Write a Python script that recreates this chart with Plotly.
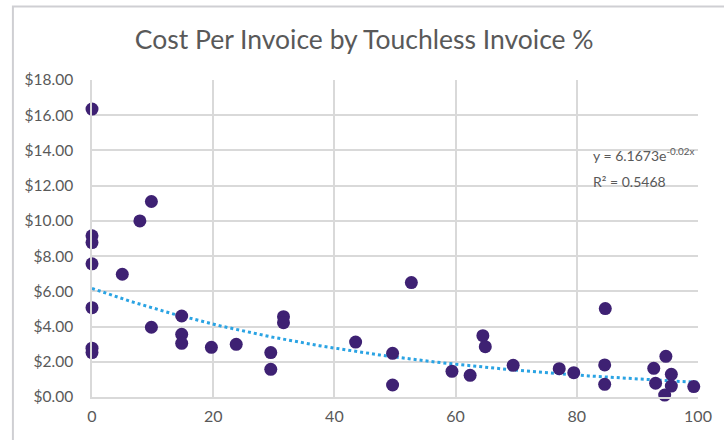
import numpy as np
import plotly.graph_objects as go

# Touchless invoice share (%) and cost per invoice ($) for each surveyed organisation
touchless_pct = [0, 0, 0, 0, 0, 0, 0, 5.0, 7.9, 9.8, 9.8, 14.8, 14.8, 14.8,
                 19.7, 23.8, 29.5, 29.5, 31.6, 31.6, 43.5, 49.6, 49.6, 52.7,
                 59.4, 62.4, 64.5, 64.9, 69.5, 77.1, 79.5, 84.7, 84.6, 84.6,
                 92.7, 93.0, 94.7, 95.6, 95.6, 94.5, 99.3]
cost_per_invoice = [16.35, 9.15, 8.77, 7.56, 5.07, 2.77, 2.52, 6.97, 10.0, 11.1, 3.96,
                    4.6, 3.56, 3.05, 2.82, 2.99, 2.52, 1.57, 4.56, 4.22, 3.12,
                    2.48, 0.68, 6.5, 1.46, 1.23, 3.48, 2.86, 1.80, 1.61, 1.38,
                    5.02, 1.82, 0.72, 1.63, 0.78, 2.31, 1.29, 0.62, 0.11, 0.59]

# Exponential trendline y = a * e^(-k x)
trend_a = 6.1673
trend_k = 0.02
trend_r2 = 0.5468

x_ticks = [0, 20, 40, 60, 80, 100]
y_ticks = [0, 2, 4, 6, 8, 10, 12, 14, 16, 18]
y_tick_labels = ["$" + f"{v:.2f}" for v in y_ticks]

GRAY_TXT = "#595959"
GRID = "#d9d9d9"
FONT = "Lato"

tx = np.linspace(0, 100, 201)
ty = trend_a * np.exp(-trend_k * tx)

fig = go.Figure()
fig.add_trace(go.Scatter(
    x=tx, y=ty, mode="lines",
    line=dict(color="#2aa3e3", width=3, dash="dot"),
    hoverinfo="skip", showlegend=False, cliponaxis=False,
))
fig.add_trace(go.Scatter(
    x=touchless_pct, y=cost_per_invoice, mode="markers",
    marker=dict(color="#3e2173", size=13, line=dict(width=0)),
    showlegend=False, cliponaxis=False,
))

fig.update_layout(
    width=724, height=440,
    margin=dict(l=92, r=19, t=80, b=43),
    paper_bgcolor="white", plot_bgcolor="white",
    font=dict(family=FONT, color=GRAY_TXT, size=15),
    title=dict(text="Cost Per Invoice by Touchless Invoice %",
               x=0.503, xanchor="center", y=0.91, yanchor="middle",
               font=dict(family=FONT, size=26.5, color=GRAY_TXT)),
    xaxis=dict(range=[0, 100], tickvals=x_ticks, showgrid=True, gridcolor=GRID,
               gridwidth=1.5, zeroline=False, showline=True, linecolor=GRID,
               linewidth=1.5, ticks="", tickfont=dict(size=16, color=GRAY_TXT),
               ticklabelstandoff=4, fixedrange=True),
    yaxis=dict(range=[0, 18], tickvals=y_ticks, ticktext=y_tick_labels,
               showgrid=True, gridcolor=GRID, gridwidth=1.5, zeroline=False,
               showline=True, linecolor=GRID, linewidth=1.5, ticks="",
               ticklabelstandoff=14,
               tickfont=dict(size=15.5, color=GRAY_TXT), fixedrange=True),
)

# light frame around the chart area
fig.add_shape(type="rect", xref="paper", yref="paper",
              x0=-0.1305, x1=1.06, y0=-0.2, y1=1.232,
              line=dict(color="#cfcfd3", width=2), fillcolor="rgba(0,0,0,0)",
              layer="below")

fig.add_annotation(
    xref="paper", yref="y", x=0.824, y=13.75, xanchor="left", yanchor="middle",
    text=f"y = {trend_a}e<sup>-{trend_k}x</sup>", showarrow=False,
    font=dict(family=FONT, size=14, color=GRAY_TXT),
)
fig.add_annotation(
    xref="paper", yref="y", x=0.824, y=12.25, xanchor="left", yanchor="middle",
    text=f"R² = {trend_r2}", showarrow=False,
    font=dict(family=FONT, size=14, color=GRAY_TXT),
)

fig.write_html("out.html")
